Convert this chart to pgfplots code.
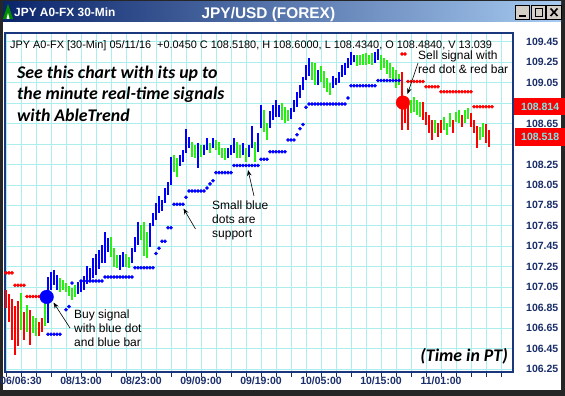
\documentclass[border=0pt]{standalone}
\usepackage{fontspec}
\setmainfont{Liberation Sans}
\newfontfamily\calibfont{Carlito}
\usepackage{pgfplots}
\pgfplotsset{compat=1.18}
\usepackage{pgfplotstable}
\usetikzlibrary{arrows.meta}

\definecolor{barblue}{RGB}{0,0,255}
\definecolor{bargreen}{RGB}{40,240,20}
\definecolor{barred}{RGB}{255,0,0}
\definecolor{gridcyan}{RGB}{170,238,238}
\definecolor{framenavy}{RGB}{25,55,125}
\definecolor{labnavy}{RGB}{25,45,105}
\definecolor{tbdark}{RGB}{10,36,106}
\definecolor{tblight}{RGB}{166,202,240}
\definecolor{boxcyan}{RGB}{120,235,235}
\definecolor{btngray}{RGB}{212,208,200}

\pgfplotstableread{
i lo hi
14 106.70 107.15
15 107.02 107.20
16 107.07 107.22
17 107.02 107.17
24 106.98 107.10
25 107.00 107.12
26 107.02 107.16
27 107.08 107.26
28 107.12 107.24
29 107.14 107.34
30 107.17 107.37
31 107.23 107.41
32 107.29 107.46
33 107.29 107.59
34 107.39 107.53
38 107.22 107.37
39 107.25 107.39
42 107.29 107.43
43 107.39 107.54
44 107.46 107.69
48 107.44 107.68
49 107.65 107.78
50 107.71 107.87
51 107.78 107.94
52 107.80 107.90
53 107.87 108.02
54 107.95 108.08
55 108.05 108.32
58 108.24 108.34
59 108.27 108.39
60 108.36 108.60
61 108.41 108.52
64 108.22 108.46
66 108.34 108.44
67 108.39 108.51
69 108.41 108.51
74 108.31 108.41
75 108.34 108.44
76 108.36 108.51
79 108.34 108.46
81 108.32 108.44
82 108.41 108.63
84 108.37 108.56
85 108.61 108.83
88 108.61 108.77
89 108.69 108.83
90 108.71 108.88
91 108.71 108.83
95 108.69 108.80
96 108.76 108.88
97 108.81 108.96
98 108.90 109.03
99 108.98 109.10
100 109.08 109.22
101 109.12 109.29
104 109.03 109.17
109 109.00 109.12
110 109.03 109.10
111 109.05 109.15
112 109.10 109.22
113 109.12 109.24
114 109.19 109.29
115 109.22 109.35
116 109.25 109.32
123 109.24 109.35
124 109.27 109.38
}\blueBars

\pgfplotstableread{
i lo hi
5 106.63 106.99
7 106.61 106.88
9 106.60 106.77
10 106.57 106.75
13 106.67 106.90
18 107.00 107.14
19 107.02 107.12
20 107.00 107.09
21 106.96 107.06
22 106.92 107.04
23 106.95 107.07
35 107.35 107.54
36 107.25 107.43
37 107.24 107.36
40 107.25 107.38
41 107.24 107.35
45 107.51 107.66
46 107.36 107.69
47 107.34 107.59
56 108.18 108.34
57 108.13 108.31
62 108.32 108.47
63 108.31 108.44
65 108.32 108.44
68 108.36 108.46
70 108.39 108.49
71 108.34 108.47
72 108.31 108.41
73 108.29 108.41
77 108.31 108.47
78 108.31 108.44
80 108.27 108.41
83 108.27 108.47
86 108.57 108.78
87 108.49 108.66
92 108.69 108.85
93 108.66 108.81
94 108.67 108.78
102 109.08 109.25
103 109.03 109.24
105 109.06 109.21
106 109.00 109.16
107 108.96 109.10
108 108.93 109.05
117 109.21 109.32
118 109.22 109.32
119 109.22 109.33
120 109.22 109.34
121 109.23 109.32
122 109.22 109.34
125 109.17 109.32
126 109.19 109.29
127 109.14 109.27
128 109.10 109.24
129 109.09 109.20
130 109.00 109.17
131 109.03 109.14
135 108.75 108.88
136 108.76 108.91
137 108.73 108.88
138 108.71 108.86
143 108.56 108.68
146 108.59 108.71
147 108.54 108.66
148 108.62 108.75
150 108.66 108.76
151 108.66 108.78
153 108.66 108.78
154 108.69 108.80
158 108.49 108.62
159 108.52 108.66
}\greenBars

\pgfplotstableread{
i lo hi
0 106.85 107.02
1 106.71 106.98
2 106.53 106.94
3 106.39 106.87
4 106.48 106.92
6 106.53 106.81
8 106.49 106.83
11 106.57 106.71
12 106.61 106.75
132 108.59 109.15
133 108.66 108.81
134 108.59 108.88
139 108.69 108.86
140 108.64 108.76
141 108.56 108.73
142 108.49 108.68
144 108.52 108.66
145 108.56 108.68
149 108.56 108.68
152 108.62 108.73
155 108.62 108.75
156 108.56 108.68
157 108.41 108.63
160 108.46 108.65
161 108.42 108.59
}\redBars

\pgfplotstableread{
i p
14 106.59
15 106.59
16 106.59
17 106.59
18 106.59
20 106.83
21 106.86
22 107.09
25 107.11
26 107.11
27 107.11
28 107.11
29 107.11
30 107.11
31 107.11
32 107.11
33 107.15
34 107.15
35 107.15
36 107.15
37 107.15
38 107.15
39 107.15
40 107.15
41 107.15
42 107.15
43 107.24
44 107.24
45 107.24
46 107.24
47 107.24
48 107.24
49 107.24
50 107.38
51 107.43
52 107.50
53 107.50
54 107.63
55 107.63
56 107.86
57 107.86
58 107.86
59 107.86
60 107.93
61 107.99
62 107.99
63 107.99
64 107.99
65 107.99
66 107.99
67 108.02
68 108.06
69 108.09
70 108.17
71 108.17
72 108.17
73 108.17
74 108.17
75 108.17
76 108.24
77 108.24
78 108.24
79 108.24
80 108.24
81 108.24
82 108.24
83 108.24
84 108.24
85 108.30
86 108.30
87 108.30
88 108.375
89 108.375
90 108.375
91 108.375
92 108.375
93 108.375
94 108.49
95 108.49
96 108.49
97 108.54
98 108.60
99 108.64
100 108.81
101 108.84
102 108.84
103 108.84
104 108.84
105 108.84
106 108.84
107 108.84
108 108.84
109 108.84
110 108.84
111 108.84
112 108.84
113 108.84
114 108.90
115 109.02
116 109.02
117 109.02
118 109.02
119 109.02
120 109.02
121 109.02
122 109.02
123 109.02
124 109.07
125 109.07
126 109.07
127 109.07
128 109.07
129 109.07
130 109.07
131 109.07
}\blueDots

\pgfplotstableread{
i p
0 107.19
1 107.19
2 107.19
3 107.07
4 107.07
5 107.07
6 107.07
7 106.96
8 106.96
9 106.96
10 106.96
11 106.96
132 109.33
133 109.33
134 109.06
135 109.06
136 109.06
137 109.06
138 109.06
139 109.06
140 109.01
141 109.01
142 109.01
143 109.01
144 109.01
145 108.96
146 108.96
147 108.96
148 108.96
149 108.96
150 108.96
151 108.96
152 108.96
153 108.96
154 108.96
155 108.96
156 108.815
157 108.815
158 108.815
159 108.815
160 108.815
161 108.815
162 108.815
}\redDots

\pgfplotsset{
  hlbar/.style={draw=none, mark=none, forget plot,
    error bars/.cd, y dir=both, y explicit, error mark=none,
    error bar style={draw=#1, line width=2.4pt}},
}

\begin{document}
\begin{tikzpicture}
% ---- window frame (pixel coordinates) ----
\begin{scope}[x=1pt,y=-1pt,yshift=396pt]
\fill[black!85] (0,0) rectangle (565,396);
\shade[left color=tbdark,right color=tblight] (3,2) rectangle (561,22);
\fill[white] (3,22.5) rectangle (561,390.5);
\end{scope}

\begin{axis}[
  at={(5pt,24pt)}, anchor=south west,
  scale only axis, width=508pt, height=339pt,
  xmin=-0.3333, xmax=169, ymin=106.221, ymax=109.535,
  xtick={5,25,45,65,85,105,125,145},
  xticklabels={06/06:30,08/13:00,08/23:00,09/09:00,09/19:00,10/05:00,10/15:00,11/01:00},
  minor xtick={0,5,...,165},
  ytick={106.25,106.45,106.65,106.85,107.05,107.25,107.45,107.65,107.85,108.05,108.25,108.45,108.65,108.85,109.05,109.25,109.45},
  yticklabels={106.25,106.45,106.65,106.85,107.05,107.25,107.45,107.65,107.85,108.05,108.25,,108.65,,109.05,109.25,109.45},
  yticklabel pos=right,
  xtick pos=bottom, ytick pos=right,
  tick align=outside,
  major tick length=5pt, minor tick length=5pt,
  tick style={labnavy, line width=0.9pt},
  major y tick style={draw=none},
  grid=both,
  major grid style={gridcyan, line width=0.7pt},
  minor grid style={gridcyan, line width=0.7pt},
  axis line style={framenavy, line width=1.3pt},
  ticklabel style={font=\fontsize{10.5}{12}\selectfont\bfseries, text=labnavy},
  yticklabel style={anchor=west, inner sep=0pt, xshift=8pt},
  xticklabel style={anchor=north, inner sep=0pt},
]
\addplot[hlbar=barblue]
  table[x=i, y expr={(\thisrow{lo}+\thisrow{hi})/2}, y error expr={(\thisrow{hi}-\thisrow{lo})/2}] {\blueBars};
\addplot[hlbar=bargreen]
  table[x=i, y expr={(\thisrow{lo}+\thisrow{hi})/2}, y error expr={(\thisrow{hi}-\thisrow{lo})/2}] {\greenBars};
\addplot[hlbar=barred]
  table[x=i, y expr={(\thisrow{lo}+\thisrow{hi})/2}, y error expr={(\thisrow{hi}-\thisrow{lo})/2}] {\redBars};
\addplot[only marks, mark=*, mark size=1.6pt, barblue] table[x=i, y=p] {\blueDots};
\addplot[only marks, mark=*, mark size=1.6pt, barred] table[x=i, y=p] {\redDots};
\addplot[only marks, mark=*, mark size=6.8pt, barblue] coordinates {(13.57,106.955)};
\addplot[only marks, mark=*, mark size=6.8pt, barred] coordinates {(132.3,108.855)};
\end{axis}

% ---- overlays (pixel coordinates) ----
\begin{scope}[x=1pt,y=-1pt,yshift=396pt]
% title bar
\fill[green!55!black] (3,19) -- (8,4) -- (13,19) -- cycle;
\fill[white] (6.5,19) -- (8,13) -- (9.5,19) -- cycle;
\node[anchor=base west, inner sep=0pt, text=white, font=\fontsize{11.9}{13}\selectfont\bfseries] at (14,17) {JPY A0-FX 30-Min};
\node[anchor=base, inner sep=0pt, text=white, font=\fontsize{15.4}{17}\selectfont\bfseries] at (268.4,18.5) {JPY/USD (FOREX)};
\foreach \bx in {515,531,546.5} {
  \fill[btngray] (\bx,5) rectangle ++(14.5,14.5);
  \draw[black, line width=0.8pt] (\bx,5) rectangle ++(14.5,14.5);
}
\draw[black, line width=1.8pt] (519,16) -- (525.5,16);
\draw[black, line width=0.9pt] (535,8.5) rectangle (542,16);
\draw[black, line width=1.8pt] (535,8.5) -- (542,8.5);
\draw[black, line width=1.6pt] (550.5,8.5) -- (557.5,16) (557.5,8.5) -- (550.5,16);
% info line
\node[anchor=base west, inner sep=0pt, font=\fontsize{10.9}{12}\selectfont] at (10,49)
  {JPY A0-FX [30-Min] 05/11/16 \ +0.0450 C 108.5180, H 108.6000, L 108.4340, O 108.4840, V 13.039};
% promo text
\node[anchor=base west, inner sep=0pt, font=\calibfont\fontsize{17.8}{20}\selectfont\bfseries\itshape] at (17,78.5) {See this chart with its up to};
\node[anchor=base west, inner sep=0pt, font=\calibfont\fontsize{17.8}{20}\selectfont\bfseries\itshape] at (17,100) {the minute real-time signals};
\node[anchor=base west, inner sep=0pt, font=\calibfont\fontsize{17.8}{20}\selectfont\bfseries\itshape] at (17,121.5) {with AbleTrend};
\node[anchor=base east, inner sep=0pt, font=\calibfont\fontsize{17.8}{20}\selectfont\bfseries\itshape] at (508,362) {(Time in PT)};
% annotations
\node[anchor=base west, inner sep=0pt, font=\fontsize{12}{14}\selectfont] at (418,59.3) {Sell signal with};
\node[anchor=base west, inner sep=0pt, font=\fontsize{12}{14}\selectfont] at (418,74) {red dot \& red bar};
\node[anchor=base west, inner sep=0pt, font=\fontsize{12}{14}\selectfont] at (212,209.3) {Small blue};
\node[anchor=base west, inner sep=0pt, font=\fontsize{12}{14}\selectfont] at (212,223.3) {dots are};
\node[anchor=base west, inner sep=0pt, font=\fontsize{12}{14}\selectfont] at (212,237.3) {support};
\node[anchor=base west, inner sep=0pt, font=\fontsize{12}{14}\selectfont] at (74,318.7) {Buy signal};
\node[anchor=base west, inner sep=0pt, font=\fontsize{12}{14}\selectfont] at (74,332.7) {with blue dot};
\node[anchor=base west, inner sep=0pt, font=\fontsize{12}{14}\selectfont] at (74,346.7) {and blue bar};
\draw[black, line width=0.6pt, -{Stealth[length=6pt,width=4.5pt]}] (418,63) -- (407.5,94);
\draw[black, line width=0.6pt, -{Stealth[length=6pt,width=4.5pt]}] (254,196) -- (248,170);
\draw[black, line width=0.6pt, -{Stealth[length=6pt,width=4.5pt]}] (195.5,229) -- (183.5,208.5);
\draw[black, line width=0.6pt, -{Stealth[length=6pt,width=4.5pt]}] (70,328) -- (53.5,302.5);
% last-value boxes
\fill[barred] (514,98) rectangle (566,115.5);
\node[anchor=west, inner sep=0pt, text=boxcyan, font=\fontsize{10.5}{12}\selectfont\bfseries] at (521,106.8) {108.814};
\fill[barred] (515,127.7) rectangle (566,146);
\node[anchor=west, inner sep=0pt, text=boxcyan, font=\fontsize{10.5}{12}\selectfont\bfseries] at (521,137) {108.518};
\end{scope}
\pgfresetboundingbox
\useasboundingbox (0,0) rectangle (565pt,396pt);
\end{tikzpicture}
\end{document}
